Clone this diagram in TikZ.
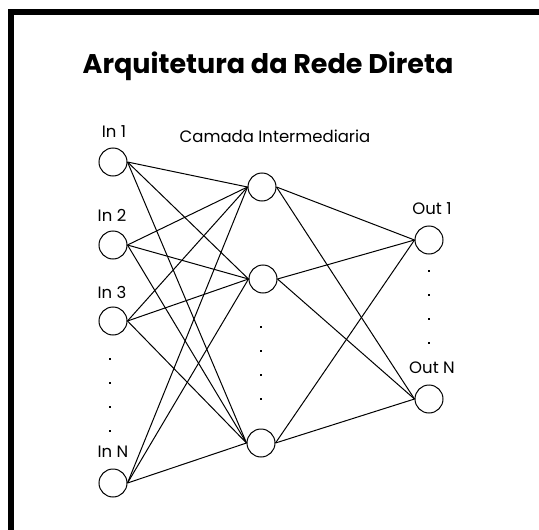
\documentclass[tikz,border=0pt]{standalone}
\usepackage{fontspec}
\setmainfont{Poppins}
\usetikzlibrary{positioning}

\begin{document}
\begin{tikzpicture}[x=1pt, y=-1pt,
    neuron/.style = {circle, draw, line width=1pt, minimum size=28pt, inner sep=0pt},
    link/.style = {line width=1pt},
    lbl/.style = {font=\fontsize{16.5}{19}\selectfont, inner sep=0pt},
    dot/.style = {fill, minimum size=2.4pt, inner sep=0pt}]

    \useasboundingbox (0,0) rectangle (539,530);
    \clip (0,0) rectangle (539,530);

    % frame
    \draw[line width=6pt] (11,11.5) rectangle (580,580);

    % title
    \node[font=\bfseries\fontsize{27}{31}\selectfont] (title) at (268,66) {Arquitetura da Rede Direta};

    % neurons
    \node[neuron] (in1) at (113,162) {};
    \node[neuron] (in2) at (113,245) {};
    \node[neuron] (in3) at (113,321) {};
    \node[neuron] (inN) at (113,483) {};
    \node[neuron] (h1) at (262,187) {};
    \node[neuron] (h2) at (263,279) {};
    \node[neuron] (h3) at (261,443) {};
    \node[neuron] (out1) at (429,240) {};
    \node[neuron] (outN) at (429,399) {};

    % labels
    \node[lbl] (lin1) at (114,132) {In 1};
    \node[lbl] (lin2) at (112,215) {In 2};
    \node[lbl] (lin3) at (112,292) {In 3};
    \node[lbl] (linN) at (113,452) {In N};
    \node[lbl] (lhid) at (275,136) {Camada Intermediaria};
    \node[lbl] (lout1) at (432,209) {Out 1};
    \node[lbl] (loutN) at (432,368) {Out N};

    % dots
    \foreach \y in {359,383,407,431} \node[dot] at (110,\y) {};
    \foreach \y in {327,351,375,399} \node[dot] at (261,\y) {};
    \foreach \y in {271,295,319,343} \node[dot] at (429,\y) {};

    % connections
    \foreach \i in {in1,in2,in3,inN}
        \foreach \h in {h1,h2,h3}
            \draw[link] (\i.east) -- (\h.west);
    \foreach \h in {h1,h2,h3}
        \foreach \o in {out1,outN}
            \draw[link] (\h.east) -- (\o.west);

\end{tikzpicture}
\end{document}
